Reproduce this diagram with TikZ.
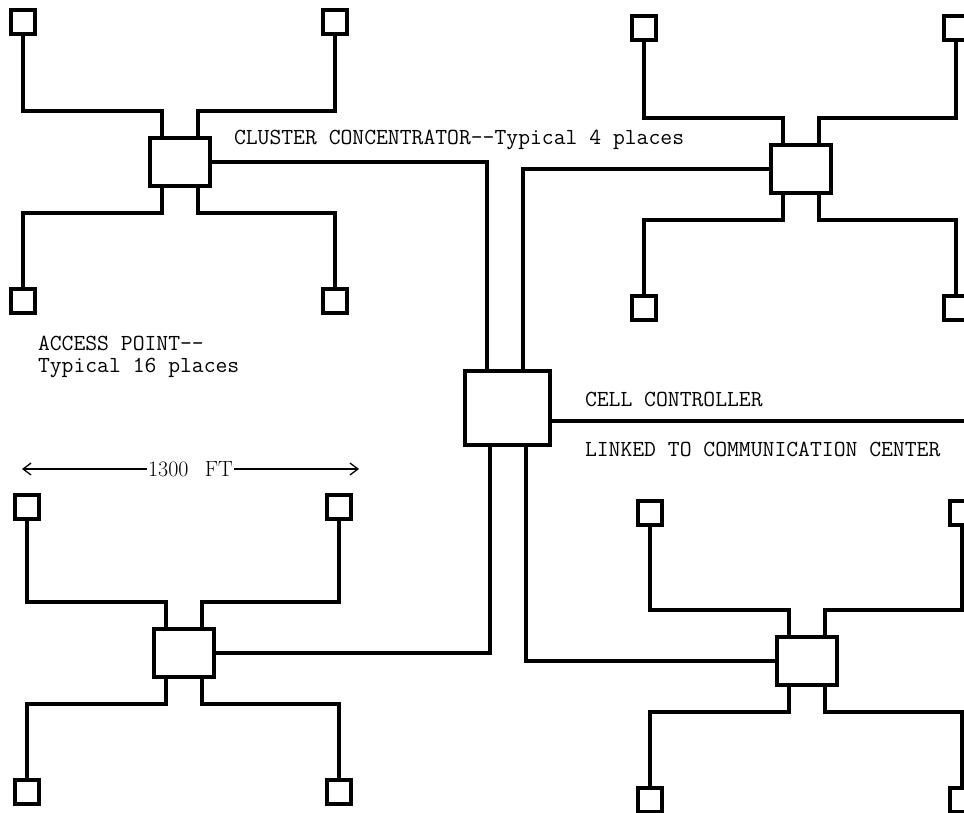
\documentclass[tikz,border=0pt]{standalone}
\usepackage{fontspec}
\usetikzlibrary{arrows.meta, positioning, calc}

\newcommand{\twfont}{\fontsize{23}{22}\selectfont\ttfamily}

\begin{document}
\begin{tikzpicture}[x=1pt, y=-1pt, line width=4pt,
    ap/.style={draw, minimum size=24pt, inner sep=0pt},
    cc/.style={draw, minimum width=60pt, minimum height=48pt, inner sep=0pt},
    ctrlbox/.style={draw, minimum width=85pt, minimum height=74pt, inner sep=0pt},
    lbl/.style={font=\twfont, inner sep=0pt, anchor=base west, align=left},
    dimline/.style={line width=1.3pt, {Straight Barb[length=8pt, width=12pt]}-{Straight Barb[length=8pt, width=12pt]}}]
    \clip (0,0) rectangle (964,813);

    % Cell controller
    \node[ctrlbox] (ctrl) at (507,408) {};

    % Clusters: concentrator with four access points
    \foreach \g/\cx/\cy/\dt in {a/180/162/140, b/801/169/141, c/184/653/146, d/807/661/148} {
        \node[cc] (\g0) at (\cx,\cy) {};
        \node[ap] (\g1) at ({\cx-157},{\cy-\dt}) {};
        \node[ap] (\g2) at ({\cx+155},{\cy-\dt}) {};
        \node[ap] (\g3) at ({\cx-157},{\cy+139}) {};
        \node[ap] (\g4) at ({\cx+155},{\cy+139}) {};
        \coordinate (\g-tl) at ({\cx-18},{\cy-51});
        \coordinate (\g-tr) at ({\cx+18},{\cy-51});
        \coordinate (\g-bl) at ({\cx-18},{\cy+51});
        \coordinate (\g-br) at ({\cx+18},{\cy+51});
        \draw (\g1) |- (\g-tl) -- (\g0.north -| \g-tl);
        \draw (\g2) |- (\g-tr) -- (\g0.north -| \g-tr);
        \draw (\g0.south -| \g-bl) -- (\g-bl) -| (\g3);
        \draw (\g0.south -| \g-br) -- (\g-br) -| (\g4);
    }

    % Trunks to the cell controller
    \draw (a0) -| ([xshift=-20pt]ctrl.north);
    \draw (b0) -| ([xshift=16pt]ctrl.north);
    \draw (c0) -| ([xshift=-17pt]ctrl.south);
    \draw (d0) -| ([xshift=19pt]ctrl.south);

    % Link to communication center
    \coordinate (link) at (970,421);
    \draw (ctrl.east |- link) -- (link);

    % Dimension
    \coordinate (dim-l) at (22,469);
    \coordinate (dim-r) at (359,469);
    \draw[dimline] (dim-l) -- (dim-r)
        node[midway, fill=white, inner sep=1pt, font=\fontsize{22}{26}\selectfont] (dim) {1300\hspace{0.75em}FT};

    % Labels
    \node[lbl] (cc-lbl) at (232,145) {CLUSTER CONCENTRATOR-{}-Typical 4 places};
    \node[lbl] (ap-lbl) at (36,372) {ACCESS POINT-{}-\\Typical 16 places};
    \node[lbl] (ctrl-lbl) at (583,406) {CELL CONTROLLER};
    \node[lbl] (link-lbl) at (583,456) {LINKED TO COMMUNICATION CENTER};
\end{tikzpicture}
\end{document}
